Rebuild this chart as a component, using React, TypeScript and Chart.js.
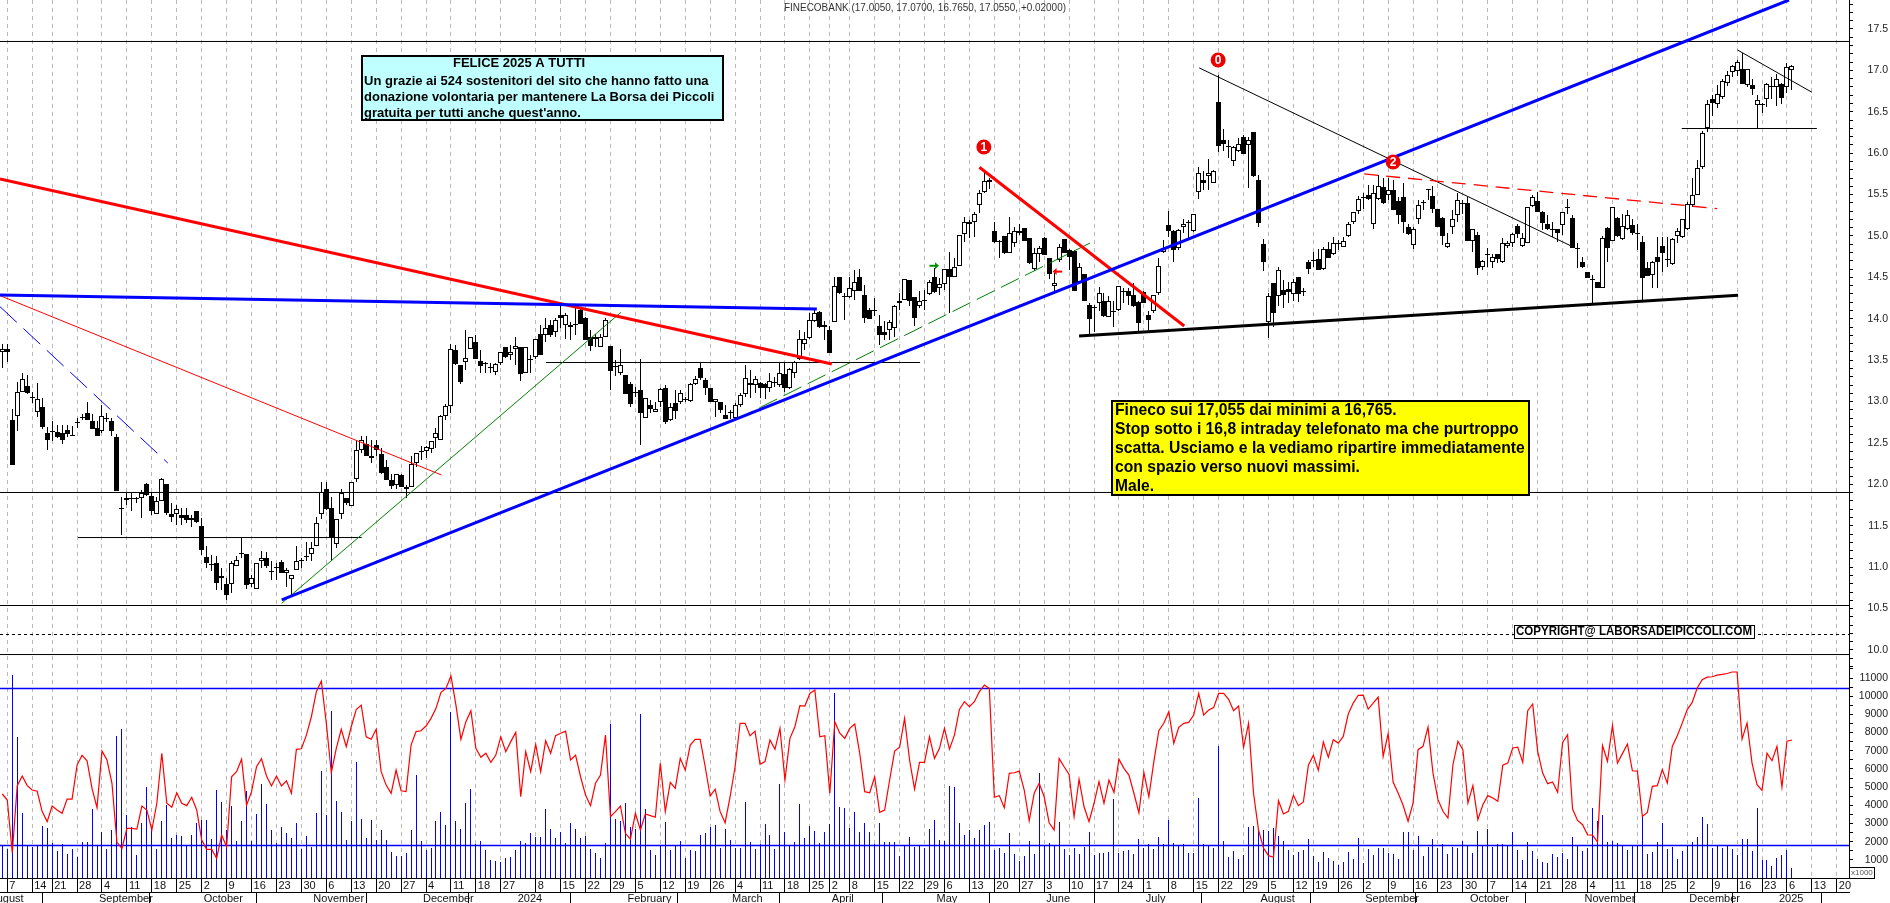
import { useEffect, useRef } from 'react';
import { Chart, registerables } from 'chart.js';
Chart.register(...registerables);

// [open, high, low, close]
const candles2023 = [
[13.60,13.70,13.40,13.64],[13.64,13.70,13.48,13.60],[12.78,12.91,12.23,12.23],[12.83,13.24,12.64,13.11],[13.11,13.35,13.11,13.27],[13.19,13.32,13.09,13.10],[13.05,13.12,12.98,13.04],[12.87,13.23,12.81,13.03],[12.93,13.04,12.67,12.69],[12.62,12.69,12.41,12.53],
[12.64,12.77,12.52,12.63],[12.63,12.72,12.56,12.57],[12.62,12.72,12.49,12.54],[12.66,12.72,12.57,12.61],[12.60,12.71,12.58,12.59],[12.75,12.80,12.68,12.74],[12.81,12.85,12.78,12.80],[12.86,12.99,12.78,12.78],[12.76,12.85,12.67,12.67],[12.68,12.76,12.58,12.58],
[12.64,12.96,12.62,12.83],[12.79,12.86,12.75,12.80],[12.77,12.80,12.59,12.65],[12.57,12.61,11.92,11.92],[11.72,11.85,11.39,11.72],[11.81,11.90,11.75,11.84],[11.83,11.90,11.68,11.84],[11.83,11.85,11.77,11.82],[11.83,11.93,11.60,11.90],[12.00,12.02,11.86,11.87],
[11.86,11.91,11.63,11.68],[11.64,11.85,11.64,11.80],[11.80,12.08,11.80,12.07],[12.00,12.00,11.63,11.65],[11.64,11.77,11.54,11.61],[11.64,11.75,11.51,11.70],[11.63,11.71,11.51,11.60],[11.63,11.71,11.53,11.57],[11.57,11.63,11.48,11.60],[11.68,11.68,11.53,11.54],
[11.50,11.59,11.15,11.21],[11.12,11.26,10.99,11.05],[11.04,11.15,10.95,11.03],[11.05,11.13,10.72,10.81],[10.87,10.99,10.72,10.89],[10.80,10.87,10.60,10.66],[10.80,11.07,10.69,11.05],[11.02,11.13,11.01,11.09],[11.16,11.36,11.11,11.17],[11.16,11.16,10.74,10.79],
[10.80,10.90,10.76,10.87],[10.74,11.05,10.74,11.05],[11.07,11.19,10.99,11.11],[11.11,11.18,10.99,11.01],[10.95,11.07,10.85,10.94],[11.00,11.05,10.85,11.00],[11.06,11.09,10.93,10.93],[10.93,10.99,10.76,10.96],[10.86,10.91,10.66,10.91],[10.97,11.26,10.97,11.07],
[11.09,11.11,10.99,11.08],[11.12,11.31,11.08,11.13],[11.16,11.31,11.08,11.23],[11.26,11.61,11.26,11.53],[11.64,12.03,11.58,11.91],[11.94,12.03,11.69,11.70],[11.72,11.85,11.07,11.37],[11.28,11.58,11.23,11.58],[11.64,11.94,11.58,11.90],[11.83,11.83,11.75,11.77],
[11.74,12.03,11.74,12.03],[12.06,12.52,12.03,12.41],[12.42,12.58,12.38,12.53],[12.49,12.58,12.34,12.34],[12.34,12.53,12.26,12.32],[12.47,12.54,12.34,12.42],[12.37,12.44,12.13,12.14],[12.21,12.30,12.05,12.05],[12.05,12.13,11.95,11.98],[11.99,12.13,11.95,12.12],
[12.11,12.12,11.97,11.97],[11.94,11.99,11.83,11.97],[11.97,12.34,11.97,12.25],[12.26,12.38,12.21,12.38],[12.39,12.46,12.30,12.40],[12.40,12.46,12.32,12.45],[12.43,12.52,12.38,12.52],[12.56,12.68,12.44,12.62],[12.53,12.84,12.53,12.82],[12.82,12.97,12.78,12.95],
[12.95,13.70,12.86,13.63],[13.62,13.68,13.44,13.45],[13.44,13.44,13.21,13.24],[13.48,13.86,13.38,13.53],[13.64,13.78,13.64,13.78],[13.72,13.80,13.51,13.51],[13.49,13.62,13.35,13.43],[13.46,13.48,13.34,13.47],[13.42,13.46,13.35,13.41],[13.36,13.46,13.32,13.45],
[13.47,13.60,13.44,13.60],[13.66,13.66,13.53,13.54],[13.56,13.68,13.50,13.60],
];
const candles2024Spring = [
[13.64,13.78,13.44,13.67],[13.66,13.66,13.25,13.33],[13.34,13.66,13.34,13.66],[13.51,13.56,13.34,13.52],[13.54,13.76,13.52,13.76],[13.82,13.92,13.56,13.56],[13.81,14.01,13.72,13.89],[13.92,13.99,13.78,13.80],[13.84,14.01,13.78,13.99],[14.05,14.18,13.89,14.01],
[13.92,14.07,13.76,14.05],[13.90,13.96,13.74,13.92],[13.92,14.13,13.80,13.94],[14.11,14.13,13.94,13.94],[14.01,14.02,13.74,13.74],[13.78,13.86,13.61,13.67],[13.78,13.82,13.66,13.76],[13.66,13.82,13.66,13.78],[13.78,14.01,13.78,13.99],[13.67,13.67,13.14,13.37],
[13.42,13.50,13.31,13.43],[13.35,13.64,13.32,13.44],[13.32,13.32,13.09,13.09],[13.21,13.24,12.94,12.97],[13.12,13.18,13.06,13.12],[13.14,13.51,12.47,12.86],[12.80,13.04,12.80,13.04],[12.96,13.02,12.86,12.91],[12.87,13.00,12.87,12.91],[12.99,13.16,12.94,13.15],
[13.17,13.20,12.73,12.75],[12.78,12.98,12.76,12.94],[12.98,13.14,12.79,12.89],[12.99,13.14,12.97,13.10],[13.03,13.05,13.00,13.03],[13.01,13.22,13.00,13.21],[13.21,13.31,13.20,13.27],[13.40,13.46,13.26,13.28],[13.26,13.28,13.08,13.17],[13.17,13.17,13.00,13.00],
[12.99,13.03,12.81,13.03],[13.00,13.00,12.86,12.90],[12.84,12.96,12.79,12.79],[12.87,12.90,12.79,12.86],[12.80,12.98,12.80,12.96],[12.96,13.10,12.94,13.08],[13.09,13.44,13.06,13.28],[13.20,13.38,13.04,13.23],[13.20,13.31,13.10,13.27],[13.22,13.24,13.04,13.17],
[13.21,13.22,13.03,13.17],[13.17,13.34,13.12,13.25],[13.24,13.30,13.18,13.24],[13.20,13.48,13.18,13.34],[13.33,13.48,13.12,13.17],[13.16,13.40,13.15,13.39],[13.34,13.49,13.28,13.48],[13.52,13.87,13.50,13.75],[13.70,13.84,13.62,13.75],[13.77,14.07,13.76,13.99],
[13.97,14.11,13.96,14.07],[14.08,14.09,13.89,13.90],[13.93,13.97,13.74,13.90],[13.86,13.91,13.59,13.59],[13.96,14.51,13.96,14.40],[14.50,14.50,14.30,14.31],[14.28,14.31,13.99,14.28],[14.26,14.51,14.25,14.37],[14.33,14.59,14.23,14.45],[14.50,14.60,14.33,14.34],
[14.29,14.41,13.95,14.01],[14.11,14.13,14.00,14.00],[14.11,14.25,14.03,14.11],[13.91,14.05,13.68,13.80],[13.84,13.97,13.74,13.81],[13.86,13.99,13.74,13.96],[13.89,14.17,13.78,14.15],[14.22,14.31,14.11,14.19],[14.23,14.48,14.23,14.48],[14.47,14.47,14.15,14.21],
[14.26,14.26,13.91,14.01],[14.15,14.33,14.13,14.22],[14.23,14.35,14.11,14.22],[14.30,14.47,14.29,14.45],[14.51,14.61,14.31,14.32],[14.37,14.49,14.29,14.42],[14.42,14.60,14.35,14.60],[14.60,14.81,14.07,14.50],[14.51,14.74,14.50,14.63],[14.64,15.01,14.64,15.01],
[15.02,15.23,14.93,15.17],[15.17,15.19,14.97,15.14],[15.17,15.29,14.99,15.27],[15.37,15.56,15.28,15.52],[15.53,15.79,15.52,15.66],[15.65,15.70,15.57,15.68],[15.06,15.17,14.92,14.93],[14.94,14.95,14.74,14.93],[15.00,15.00,14.78,14.79],[14.80,15.23,14.80,15.04],
[14.92,15.11,14.87,15.06],[15.03,15.15,15.01,15.06],[15.10,15.10,14.94,14.94],[14.97,14.97,14.66,14.67],[14.60,14.85,14.58,14.80],[14.78,14.88,14.69,14.86],[14.97,14.99,14.77,14.77],[14.73,14.73,14.48,14.54],[14.39,14.55,14.33,14.43],[14.71,14.90,14.69,14.87],
[14.96,14.96,14.79,14.80],[14.83,14.84,14.59,14.75],[14.82,14.83,14.33,14.34],[14.45,14.67,14.43,14.62],[14.54,14.54,14.22,14.22],[14.17,14.19,13.82,14.00],
];
const candles2024Summer = [
[14.14,14.17,13.84,14.13],[14.19,14.38,14.09,14.31],[14.22,14.31,14.02,14.03],[14.02,14.27,14.02,14.22],[14.09,14.21,13.90,14.10],[14.11,14.40,14.10,14.39],[14.34,14.37,14.19,14.33],[14.34,14.37,14.17,14.28],[14.29,14.43,14.14,14.15],[14.20,14.21,13.84,13.95],
[14.32,14.33,14.19,14.19],[14.05,14.09,13.84,13.98],[14.10,14.29,14.07,14.29],[14.31,14.73,14.29,14.64],[14.81,14.95,14.80,14.85],[15.13,15.30,14.99,15.06],[15.06,15.07,14.68,14.83],[14.85,15.09,14.83,15.07],[15.11,15.21,15.03,15.15],[15.17,15.19,14.97,15.16],
[15.06,15.27,15.05,15.26],[15.53,15.83,15.45,15.76],[15.68,15.78,15.56,15.64],[15.72,15.93,15.56,15.76],[15.64,15.80,15.64,15.78],[16.62,16.94,16.02,16.09],[16.16,16.29,16.03,16.11],[16.07,16.16,15.94,16.09],[15.91,16.09,15.85,16.07],[16.03,16.18,16.02,16.11],
[16.20,16.22,15.99,15.99],[16.10,16.20,15.58,16.16],[16.25,16.25,15.71,15.72],[15.68,15.74,15.11,15.16],[14.90,14.96,14.58,14.68],[13.96,14.31,13.77,14.27],[14.43,14.43,13.90,14.07],[14.27,14.62,14.15,14.59],[14.35,14.47,14.13,14.29],[14.36,14.45,14.19,14.32],
[14.30,14.48,14.21,14.45],[14.50,14.50,14.20,14.30],[14.33,14.37,14.27,14.32],[14.68,14.71,14.54,14.60],[14.71,14.81,14.63,14.71],[14.72,14.84,14.59,14.59],[14.60,14.87,14.59,14.84],[14.84,14.93,14.73,14.74],[14.78,14.99,14.77,14.91],[14.92,14.95,14.83,14.91],
[14.87,14.99,14.87,14.94],[15.00,15.17,14.99,15.14],[15.17,15.29,15.14,15.29],[15.30,15.48,15.27,15.45],[15.47,15.52,15.33,15.47],[15.50,15.62,15.43,15.45],[15.14,15.61,15.09,15.52],[15.45,15.74,15.44,15.60],[15.59,15.70,15.39,15.40],[15.50,15.70,15.44,15.56],
[15.56,15.68,15.31,15.31],[15.42,15.47,15.15,15.25],[15.47,15.64,15.03,15.17],[15.11,15.15,15.01,15.02],[14.89,15.11,14.84,15.09],[15.20,15.44,15.14,15.37],[15.41,15.44,15.31,15.40],[15.56,15.57,15.43,15.57],[15.48,15.60,15.28,15.33],[15.33,15.33,15.11,15.11],
];
const candles2024Autumn = [
[15.22,15.23,14.89,15.00],[14.87,15.03,14.85,14.92],[15.11,15.31,15.02,15.20],[15.25,15.52,15.17,15.44],[15.40,15.43,15.27,15.39],[15.40,15.47,14.94,14.94],[14.94,15.08,14.81,15.08],[15.01,15.05,14.53,14.61],[14.63,14.71,14.59,14.70],[14.77,14.85,14.63,14.78],
[14.68,14.78,14.61,14.75],[14.78,14.78,14.67,14.72],[14.68,14.98,14.67,14.91],[14.88,14.94,14.85,14.92],[14.92,15.03,14.87,15.02],[15.12,15.14,14.98,15.02],[14.88,15.03,14.87,14.97],[14.92,15.35,14.92,15.35],[15.36,15.49,15.35,15.47],[15.42,15.53,15.29,15.29],
[15.29,15.30,15.07,15.16],[15.14,15.25,15.07,15.08],[15.09,15.17,14.99,15.08],[15.08,15.09,14.93,15.03],[15.13,15.29,15.01,15.29],[15.35,15.45,15.27,15.35],[15.22,15.25,14.85,14.85],[14.85,14.91,14.61,14.85],[14.69,14.75,14.61,14.63],[14.57,14.57,14.49,14.49],
[14.47,14.53,14.18,14.48],[14.45,14.45,14.37,14.37],[14.37,15.00,14.37,14.98],[15.10,15.11,14.68,14.85],[14.94,15.35,14.94,15.35],[15.22,15.23,14.99,15.00],[14.96,15.27,14.95,15.12],[15.08,15.31,15.07,15.25],[15.13,15.21,15.01,15.03],[15.04,15.15,14.83,15.04],
[14.93,15.00,14.23,14.49],[14.61,14.68,14.52,14.52],[14.53,14.70,14.37,14.69],[14.75,14.99,14.37,14.69],[14.88,14.99,14.57,14.80],[14.71,14.99,14.63,14.72],[14.66,14.98,14.65,14.96],[15.00,15.10,14.91,15.06],[14.99,15.21,14.98,15.20],[15.08,15.41,15.07,15.39],
[15.37,15.70,15.35,15.50],[15.50,15.92,15.50,15.82],[15.83,16.27,15.81,16.24],[16.30,16.64,16.25,16.60],[16.65,16.70,16.45,16.61],[16.60,16.82,16.55,16.72],[16.68,16.90,16.65,16.87],[16.85,16.99,16.81,16.94],[16.98,17.07,16.92,17.05],[16.99,17.13,16.93,17.10],
[17.02,17.21,16.84,16.84],[16.82,17.02,16.80,17.02],[16.82,16.89,16.70,16.78],[16.58,16.70,16.30,16.64],[16.58,16.61,16.49,16.60],[16.65,16.85,16.56,16.84],[16.80,16.92,16.66,16.81],[16.80,16.96,16.57,16.90],[16.84,16.85,16.59,16.67],[16.80,17.09,16.73,17.04],
[17.005,17.07,16.765,17.055],
];

const volumes = [
1780,1590,11160,7770,3570,1760,1720,1780,2860,2750,1940,1500,1870,1320,1590,1150,1980,1980,3790,1780,
2530,1590,2640,7810,8190,3460,2790,1260,3010,5000,2820,1590,3130,4010,2200,2360,2310,1780,2360,3020,
3190,3190,2140,4840,4180,2640,3960,2030,3130,4780,2050,3520,5170,4070,2640,1910,2800,2470,2200,3020,
1590,2310,1700,3570,5880,3460,9180,4230,3630,2090,3130,6380,3240,2200,3190,2090,2640,2090,1430,1210,
1210,1370,2640,5660,2030,1540,1650,3130,3630,2910,9130,3130,2690,4120,4890,1870,2030,1540,990,930,
880,1100,1150,1540,2030,1920,2470,2250,2250,3790,2690,2200,2530,1920,3020,2690,2200,2310,1590,1370,
1100,1920,8470,3240,3130,4120,2800,2680,9020,3790,1540,1260,1780,3080,1540,1780,2030,1100,1540,1480,
2360,2470,2800,2910,1650,2690,2090,1650,1650,4180,1980,1590,1870,2970,2360,1590,5170,2530,1760,1980,
4070,2200,2860,2580,1920,2530,2970,10170,3900,3850,2750,3630,2530,3020,2530,1870,3020,1980,1980,1980,
1210,1810,2250,1700,1810,1650,2690,3190,2090,2030,5060,5000,3020,2360,2640,2200,2640,2910,3080,1540,
1650,1370,2470,1320,930,1210,2030,1320,5770,1810,1920,1760,3080,1590,1260,1650,1320,1700,2530,1260,
1370,1370,1430,4340,1370,1480,1540,1320,2140,1650,1870,1590,2250,1870,3190,1920,1810,1870,1370,1370,
4400,1870,1810,1650,7260,2030,1150,1480,1040,1260,2800,2860,2640,2660,2570,2770,2330,2050,1560,1280,
1430,1560,2160,1230,900,1450,1120,950,730,900,1450,1060,2220,840,1610,1280,1670,1670,1390,1340,
1060,2550,2550,1560,2330,1230,1720,2160,1670,1890,1340,1720,1670,2050,1830,1390,2600,1780,2710,1720,
1890,1890,1780,2550,1560,1010,2000,1500,1060,900,840,1340,1170,1390,1060,2270,1780,1500,1670,3870,
3150,3480,2000,2020,1940,1830,1560,1780,1830,3390,1340,1450,2000,3040,1610,1720,1060,1500,1780,2000,
2270,3370,2990,1670,1780,1670,1780,1610,1280,2160,2160,1500,3870,1010,1010,680,1120,1280,1560,570,
];
const oscillator = [
4620,4290,1390,5080,5610,5080,4840,4770,3650,3100,3960,3740,3560,4340,4340,6210,6750,6450,4930,3870,
6980,6490,5210,1960,1630,2730,2730,2690,3960,3740,2640,4110,6860,4110,3890,4690,4110,3980,4440,3740,
2090,1580,1580,1080,2360,1720,5570,5850,6530,4010,4750,6120,6560,5610,5060,5610,5060,5350,4660,7080,
7110,7860,8870,10250,10830,8510,5790,7130,8180,7220,8320,9270,9510,7770,7630,8180,5850,5110,4660,5940,
4800,4750,7310,8050,8100,8360,8780,9330,10210,10430,11110,9510,7630,8600,9200,7130,6640,6860,6360,6760,
7770,6950,7500,8010,4470,6950,5850,7350,5850,7550,6860,7830,7960,8080,6490,6760,5570,4560,3980,5210,
5660,7860,3370,3650,3960,2460,2140,3560,2640,3520,3430,3340,6310,3650,5260,4930,6580,5940,7310,7630,
7630,6120,4510,4890,3650,3040,4470,6120,8510,8510,7830,8080,6250,6400,7590,7080,8230,5390,7680,8320,
9480,9460,10150,10340,7770,7830,4660,8600,7960,7680,8230,8470,6860,4750,4690,5570,3610,3740,5390,6980,
7190,8780,6490,4890,6360,6360,7770,6580,7130,8230,7090,7860,9270,9700,9420,9700,10250,10610,10430,4440,
4530,3870,5760,5790,5880,4840,3150,4660,5210,4470,3040,2640,6580,6120,5700,3370,5430,3920,3100,4110,
5300,4110,5390,4710,6540,6030,5660,4660,3590,5810,4470,6400,8100,8510,9150,7410,8290,8510,8560,8960,
10150,8960,9240,9370,10150,10150,9830,9200,9460,7190,8510,4660,2640,1650,1230,1140,4250,3520,3670,4550,
3980,4180,6200,6750,5920,7480,6650,7610,7420,7790,9020,9620,10050,10060,9290,9620,9950,6690,7940,5280,
4670,4000,3120,4120,7060,7240,8300,5770,4310,3670,3300,6230,7520,7060,4120,5080,3210,4030,4530,4400,
4220,6200,6320,7150,7200,6360,9200,9570,6970,5770,5190,5280,4710,7460,7880,3790,3170,2930,2380,2360,
1980,7280,6420,8380,6320,6840,7370,5900,5880,3390,3610,5040,5080,5960,5220,7240,7830,8520,9260,9660,
10450,10910,11050,11070,11160,11200,11250,11330,11330,7640,8520,6320,5130,4820,6870,6450,7240,5000,7520,7590,
];

const weekBars = [1,6,10,15,20,25,30,35,40,45,50,55,60,65,70,75,80,85,90,95,100,107,112,117,122,127,132,137,142,147,152,157,162,166,170,175,180,185,189,194,199,204,209,214,219,224,229,234,239,244,249,254,259,263,268,273,278,283,288,293,298,303,308,313,318,323,328,333,338,343,348,353,358,363,368];
const weekLabels = ['7','14','21','28','4','11','18','25','2','9','16','23','30','6','13','20','27','4','11','18','27','8','15','22','29','5','12','19','26','4','11','18','25','2','8','15','22','29','6','13','20','27','3','10','17','24','1','8','15','22','29','5','12','19','26','2','9','16','23','30','7','14','21','28','4','11','18','25','2','9','16','23','6','13','20'];
const monthBars = [-3,19,40,62,84,103,125,146,166,187,209,229,252,273,294,317,338,356];
const monthLabels = ['August','September','October','November','December','2024','February','March','April','May','June','July','August','September','October','November','December','2025'];

const priceTickValues = [9.8,9.9,10,10.1,10.2,10.3,10.4,10.5,10.6,10.7,10.8,10.9,11,11.1,11.2,11.3,11.4,11.5,11.6,11.7,11.8,11.9,12,12.1,12.2,12.3,12.4,12.5,12.6,12.7,12.8,12.9,13,13.1,13.2,13.3,13.4,13.5,13.6,13.7,13.8,13.9,14,14.1,14.2,14.3,14.4,14.5,14.6,14.7,14.8,14.9,15,15.1,15.2,15.3,15.4,15.5,15.6,15.7,15.8,15.9,16,16.1,16.2,16.3,16.4,16.5,16.6,16.7,16.8,16.9,17,17.1,17.2,17.3,17.4,17.5,17.6,17.7,17.8];
const volumeTickValues = [500,1000,1500,2000,2500,3000,3500,4000,4500,5000,5500,6000,6500,7000,7500,8000,8500,9000,9500,10000,10500,11000,11500];

// horizontal price levels across the whole chart, and the two volume levels
const fullLevels = [17.349,11.902,10.537,9.945];
const dottedLevel = 10.187;
const volumeLevels = [10424,1788];

// trend lines: [barA, priceA, barB, priceB]
const redThick = [[-0.46,15.69,166.4,13.454],[196,15.83,237.1,13.913]];
const redThin = [[-0.46,14.28,88.1,12.113]];
const redDashed = [[273.2,15.749,344,15.33]];
const blueThick = [[-0.46,14.287,163.4,14.118],[56.05,10.604,358.4,17.85]];
const blueDashed = [[-0.46,14.146,33.2,12.258]];
const greenThin = [[56.05,10.564,124.1,14.078]];
const greenDashed = [[147,12.778,218.2,14.915]];
const blackThin = [[15.2,11.358,72.1,11.358],[109.07,13.472,184.1,13.472],[336.9,16.298,364,16.298],[240.1,17.03,315,14.871],[348.1,17.246,363,16.736]];
const blackThick = [[216,13.792,348.2,14.284]];

const waveBars = [243.9,196.9,279];
const wavePrices = [17.126,16.075,15.894];
const waveLabels = ['0','1','2'];
const arrowBars = [186.9,211.7];
const arrowPrices = [14.64,14.57];

const titleText = 'FINECOBANK (17.0050, 17.0700, 16.7650, 17.0550, +0.02000)';
const greetingHead = 'FELICE 2025 A TUTTI';
const greetingLines = ['Un grazie ai 524 sostenitori del sito che hanno fatto una','donazione volontaria per mantenere La Borsa dei Piccoli',"gratuita per tutti anche quest'anno."];
const commentLines = ['Fineco sui 17,055 dai minimi a 16,765.','Stop sotto i 16,8 intraday telefonato ma che purtroppo','scatta. Usciamo e la vediamo ripartire immediatamente','con spazio verso nuovi massimi.','Male.'];
const copyrightText = 'COPYRIGHT@ LABORSADEIPICCOLI.COM';

const SANS = '"Liberation Sans", Arial, sans-serif';
const allCandles = [...candles2023, ...candles2024Spring, ...candles2024Summer, ...candles2024Autumn];

const trendSets = (segs: number[][], color: string, width: number, dash: number[], order: number) =>
  segs.map((s) => ({
    type: 'line' as const,
    data: [{ x: s[0], y: s[1] }, { x: s[2], y: s[3] }],
    borderColor: color,
    borderWidth: width,
    borderDash: dash,
    pointRadius: 0,
    xAxisID: 'x',
    yAxisID: 'yPrice',
    order,
  }));

const snapBars = {
  id: 'snapBars',
  afterDatasetsUpdate(chart: any) {
    chart.data.datasets.forEach((ds: any, idx: number) => {
      if (ds.type !== 'bar') return;
      chart.getDatasetMeta(idx).data.forEach((el: any) => {
        el.x = Math.round(el.x - 0.5) + 0.5;
        const a = Math.round(el.y);
        let b = Math.round(el.base);
        if (a === b) b = a + 1;
        el.y = a;
        el.base = b;
        el.height = b - a;
      });
    });
  },
};

const overlays = {
  id: 'overlays',
  afterDraw(chart: any) {
    const { ctx, scales } = chart;
    ctx.save();
    ctx.textBaseline = 'middle';
    // title
    ctx.fillStyle = '#333';
    ctx.font = `10.5px ${SANS}`;
    ctx.textAlign = 'left';
    ctx.fillText(titleText, 784, 8, 282);
    // greeting box
    ctx.fillStyle = '#bfffff';
    ctx.fillRect(362, 56, 361, 64);
    ctx.strokeStyle = '#000';
    ctx.lineWidth = 2;
    ctx.strokeRect(362, 56, 361, 64);
    ctx.fillStyle = '#000';
    ctx.font = `bold 13px ${SANS}`;
    ctx.fillText(greetingHead, 453, 63, 135);
    const greetY = [81, 97, 113];
    const greetW = [347, 354, 217];
    greetingLines.forEach((t, i) => ctx.fillText(t, 364, greetY[i], greetW[i]));
    // comment box
    ctx.fillStyle = '#ffff00';
    ctx.fillRect(1112, 401, 417, 94);
    ctx.lineWidth = 2;
    ctx.strokeRect(1112, 401, 417, 94);
    ctx.fillStyle = '#000';
    ctx.font = `bold 15.7px ${SANS}`;
    const noteY = [411, 430, 449, 468, 487];
    const noteW = [283, 406, 411, 248, 39];
    commentLines.forEach((t, i) => ctx.fillText(t, 1115, noteY[i], noteW[i]));
    // copyright
    ctx.fillStyle = '#fff';
    ctx.fillRect(1514, 625, 240, 13);
    ctx.lineWidth = 1;
    ctx.strokeRect(1514.5, 625.5, 240, 13);
    ctx.fillStyle = '#000';
    ctx.font = `bold 12.5px ${SANS}`;
    ctx.fillText(copyrightText, 1516, 632, 236);
    // x1000 box
    ctx.fillStyle = '#fff';
    ctx.fillRect(1850, 868, 24, 10);
    ctx.strokeStyle = '#000';
    ctx.strokeRect(1849.5, 867.5, 25, 11);
    ctx.fillStyle = '#555';
    ctx.font = `8px ${SANS}`;
    ctx.fillText('x1000', 1851, 873, 22);
    // wave numbers
    ctx.fillStyle = '#fff';
    ctx.font = `bold 12px ${SANS}`;
    ctx.textAlign = 'center';
    waveLabels.forEach((t, i) => {
      ctx.fillText(t, scales.x.getPixelForValue(waveBars[i]), scales.yPrice.getPixelForValue(wavePrices[i]) + 0.5);
    });
    // arrows
    arrowBars.forEach((b, i) => {
      const px = scales.x.getPixelForValue(b);
      const py = scales.yPrice.getPixelForValue(arrowPrices[i]);
      const dir = i === 0 ? 1 : -1;
      const color = i === 0 ? '#009000' : '#ff0000';
      ctx.strokeStyle = color;
      ctx.fillStyle = color;
      ctx.lineWidth = 2;
      ctx.beginPath();
      ctx.moveTo(px - 4.5 * dir, py);
      ctx.lineTo(px + 3 * dir, py);
      ctx.stroke();
      ctx.beginPath();
      ctx.moveTo(px + 5 * dir, py);
      ctx.lineTo(px + 1 * dir, py - 3.5);
      ctx.lineTo(px + 1 * dir, py + 3.5);
      ctx.closePath();
      ctx.fill();
    });
    ctx.restore();
  },
};

export default function App() {
  const ref = useRef<HTMLCanvasElement | null>(null);
  useEffect(() => {
    document.body.style.margin = '0';
    const noPad = (s: any) => {
      s.paddingTop = 0;
      s.paddingBottom = 0;
      s.paddingLeft = 0;
      s.paddingRight = 0;
    };
    const tickFont = { family: SANS, size: 11 };
    const axisFont = { family: SANS, size: 10.5 };
    const bodyData = allCandles.map((c, i) => ({ x: i, y: [c[0], c[3]] }));
    const wickData = allCandles.map((c, i) => ({ x: i, y: [c[2], c[1]] }));
    const chart = new Chart(ref.current as HTMLCanvasElement, {
      type: 'bar',
      data: {
        datasets: [
          {
            type: 'bar', data: wickData, xAxisID: 'x', yAxisID: 'yPrice', grouped: false,
            barThickness: 1, backgroundColor: '#000', inflateAmount: 0, borderWidth: 0, order: 30,
          },
          {
            type: 'bar', data: bodyData, xAxisID: 'x', yAxisID: 'yPrice', grouped: false,
            barThickness: 5, inflateAmount: 0, borderWidth: 1, borderSkipped: false, borderColor: '#000',
            backgroundColor: allCandles.map((c) => (c[3] >= c[0] ? '#fff' : '#000')), order: 29,
          },
          {
            type: 'bar', data: volumes.map((v, i) => ({ x: i, y: v })), xAxisID: 'x', yAxisID: 'yVolume', grouped: false,
            barThickness: 1, backgroundColor: '#0000ff', inflateAmount: 0, borderWidth: 0, order: 28,
          },
          {
            type: 'line', data: oscillator.map((v, i) => ({ x: i, y: v })), xAxisID: 'x', yAxisID: 'yVolume',
            borderColor: '#ff0000', borderWidth: 1.2, pointRadius: 0, order: 26,
          },
          ...volumeLevels.map((v) => ({
            type: 'line' as const, data: [{ x: -0.46, y: v }, { x: 370.45, y: v }], xAxisID: 'x', yAxisID: 'yVolume',
            borderColor: '#0000ff', borderWidth: 1.3, pointRadius: 0, order: 27,
          })),
          ...trendSets(fullLevels.map((p) => [-0.46, p, 370.45, p]), '#000', 1, [], 25),
          ...trendSets([[-0.46, dottedLevel, 370.45, dottedLevel]], '#000', 1, [3, 3], 25),
          ...trendSets(blackThin, '#000', 1, [], 24),
          ...trendSets(blackThick, '#000', 3, [], 23),
          ...trendSets(redThin, '#ff0000', 1, [], 22),
          ...trendSets(redDashed, '#ff0000', 1.3, [14, 8], 22),
          ...trendSets(blueDashed, '#0000ff', 1, [23, 9], 22),
          ...trendSets(greenThin, '#008000', 1, [], 22),
          ...trendSets(greenDashed, '#008000', 1, [20, 7], 22),
          ...trendSets(redThick, '#ff0000', 3, [], 21),
          ...trendSets(blueThick, '#0000ff', 3, [], 20),
          {
            type: 'line', data: waveBars.map((b, i) => ({ x: b, y: wavePrices[i] })), xAxisID: 'x', yAxisID: 'yPrice',
            showLine: false, pointRadius: 7.5, pointBackgroundColor: '#ee0000', pointBorderColor: '#ee0000', pointBorderWidth: 0, order: 1,
          },
        ] as any,
      },
      options: {
        responsive: false,
        animation: false,
        events: [],
        layout: { autoPadding: false, padding: { left: 0, top: 0, bottom: 0, right: 2 } },
        plugins: { legend: { display: false }, title: { display: false }, tooltip: { enabled: false } },
        scales: {
          x: {
            type: 'linear', position: 'bottom', min: -0.46, max: 370.45, offset: false, weight: 0, bounds: 'data',
            afterBuildTicks: (s: any) => { s.ticks = weekBars.map((v) => ({ value: v })); },
            afterFit: (s: any) => { s.height = 14; noPad(s); },
            grid: { offset: false, display: true, drawOnChartArea: true, drawTicks: true, color: '#b8b8b8', tickColor: '#000', tickLength: 14, tickBorderDash: [] },
            border: { display: true, color: '#000', dash: [4, 4] },
            ticks: {
              autoSkip: false, maxRotation: 0, minRotation: 0, align: 'start', padding: -13, labelOffset: 2,
              color: '#111', font: tickFont,
              callback: (_v: any, i: number) => weekLabels[i],
            },
          },
          xm: {
            type: 'linear', axis: 'x', position: 'bottom', min: -0.46, max: 370.45, offset: false, weight: 1, bounds: 'data',
            afterBuildTicks: (s: any) => { s.ticks = monthBars.map((v) => ({ value: v })); },
            afterFit: (s: any) => { s.height = 11; noPad(s); },
            grid: { display: true, drawOnChartArea: false, drawTicks: true, tickColor: '#000', tickLength: 11 },
            border: { display: true, color: '#000' },
            ticks: {
              autoSkip: false, maxRotation: 0, minRotation: 0, align: 'start', padding: -11, labelOffset: 2,
              color: '#111', font: tickFont,
              callback: (_v: any, i: number) => monthLabels[i],
            },
          },
          yPrice: {
            type: 'linear', position: 'right', stack: 'panes', stackWeight: 667, weight: 0, min: 9.7945, max: 17.85, beginAtZero: false, bounds: 'data',
            afterBuildTicks: (s: any) => { s.ticks = priceTickValues.map((v) => ({ value: v })); },
            afterFit: (s: any) => { s.width = 39; noPad(s); },
            grid: { display: true, drawOnChartArea: false, drawTicks: true, tickColor: '#000', tickLength: 4 },
            border: { display: true, color: '#000' },
            ticks: {
              autoSkip: false, crossAlign: 'far', color: '#222', font: axisFont,
              callback: (v: any) => (v >= 10 && Math.abs(v * 2 - Math.round(v * 2)) < 1e-6 ? Number(v).toFixed(1) : ''),
            },
          },
          yVolume: {
            type: 'linear', position: 'right', stack: 'panes', stackWeight: 211, weight: 1, min: 0, max: 11606, bounds: 'data',
            afterBuildTicks: (s: any) => { s.ticks = volumeTickValues.map((v) => ({ value: v })); },
            afterFit: (s: any) => { s.width = 39; noPad(s); },
            grid: { display: true, drawOnChartArea: false, drawTicks: true, tickColor: '#000', tickLength: 4 },
            border: { display: true, color: '#000' },
            ticks: {
              autoSkip: false, crossAlign: 'far', color: '#222', font: axisFont,
              callback: (v: any) => (v % 1000 === 0 ? String(v) : ''),
            },
          },
        } as any,
      },
      plugins: [snapBars, overlays],
    } as any);
    return () => chart.destroy();
  }, []);
  return (
    <div style={{ width: 1890, height: 903, background: '#fff', overflow: 'hidden' }}>
      <canvas ref={ref} width={1890} height={903} style={{ display: 'block', width: 1890, height: 903 }} />
    </div>
  );
}
